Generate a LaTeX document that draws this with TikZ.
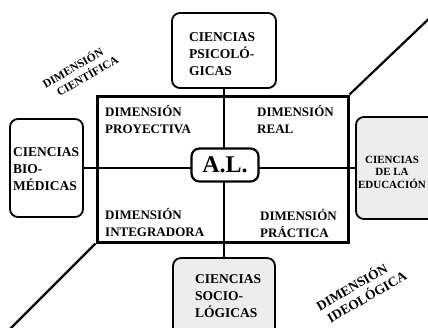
\documentclass[tikz,border=0pt]{standalone}
\usepackage{fontspec}
\setmainfont{Liberation Serif}
\begin{document}
\begin{tikzpicture}[x=1pt,y=-1pt,
    scibox/.style={draw,line width=1.8pt,rounded corners=8pt,fill=white},
    shadebox/.style={scibox,fill=black!7},
    boxtext/.style={inner sep=0pt,align=left,font=\bfseries\fontsize{13.5}{17}\selectfont},
    dimtext/.style={inner sep=0pt,align=left,font=\bfseries\fontsize{13}{16.5}\selectfont},
    axis/.style={line width=2pt},
    diag/.style={line width=2.2pt}]
            \useasboundingbox (0,0) rectangle (428,327);
            \clip (0,0) rectangle (428,327);
            \node [scibox,minimum width=104pt,minimum height=75pt] (psico) at(224,50.5) {};
            \node [scibox,minimum width=73pt,minimum height=98pt] (bio) at(46.5,168) {};
            \node [shadebox,minimum width=90pt,minimum height=102pt] (educ) at(401,168) {};
            \node [shadebox,minimum width=102pt,minimum height=90pt] (socio) at(224,303) {};
            \node [draw,line width=3pt,minimum width=251pt,minimum height=146pt] (dimframe) at(222.5,169) {};
            \coordinate (ne-end) at(436,12);
            \coordinate (sw-end) at(6,333);
            \draw [diag] (dimframe.north east) -- (ne-end);
            \draw [diag] (dimframe.south west) -- (sw-end);
            \draw [axis] (bio) -- (educ);
            \draw [axis] (psico) -- (socio);
            \node [scibox,line width=2.2pt,minimum width=67pt,minimum height=33pt,font=\bfseries\fontsize{24}{24}\selectfont] (al) at(225,165) {A.L.};
            \node [boxtext,anchor=base west] (psico-txt) at(189,75) {CIENCIAS\\PSICOLÓ-\\GICAS};
            \node [boxtext,anchor=base west] (bio-txt) at(13,190) {CIENCIAS\\BIO-\\MÉDICAS};
            \node [boxtext,anchor=base,align=center,font=\bfseries\fontsize{11}{12.5}\selectfont] (educ-txt) at(392,188) {CIENCIAS\\DE LA\\EDUCACIÓN};
            \node [boxtext,anchor=base west] (socio-txt) at(195,317) {CIENCIAS\\SOCIO-\\LÓGICAS};
            \node [dimtext,anchor=base west] (proyectiva) at(105,133) {DIMENSIÓN\\PROYECTIVA};
            \node [dimtext,anchor=base west] (real) at(257,133) {DIMENSIÓN\\REAL};
            \node [dimtext,anchor=base west] (integradora) at(105,236) {DIMENSIÓN\\INTEGRADORA};
            \node [dimtext,anchor=base west] (practica) at(260,237) {DIMENSIÓN\\PRÁCTICA};
            \node [dimtext,rotate=30,font=\bfseries\fontsize{11.5}{14}\selectfont] (cientifica) at(80,71) {DIMENSIÓN\\\hspace*{8pt}CIENTÍFICA};
            \node [dimtext,rotate=30,font=\bfseries\fontsize{13.5}{16}\selectfont] (ideologica) at(361,290) {DIMENSIÓN\\\hspace*{3pt}IDEOLÓGICA};
        \end{tikzpicture}
\end{document}
